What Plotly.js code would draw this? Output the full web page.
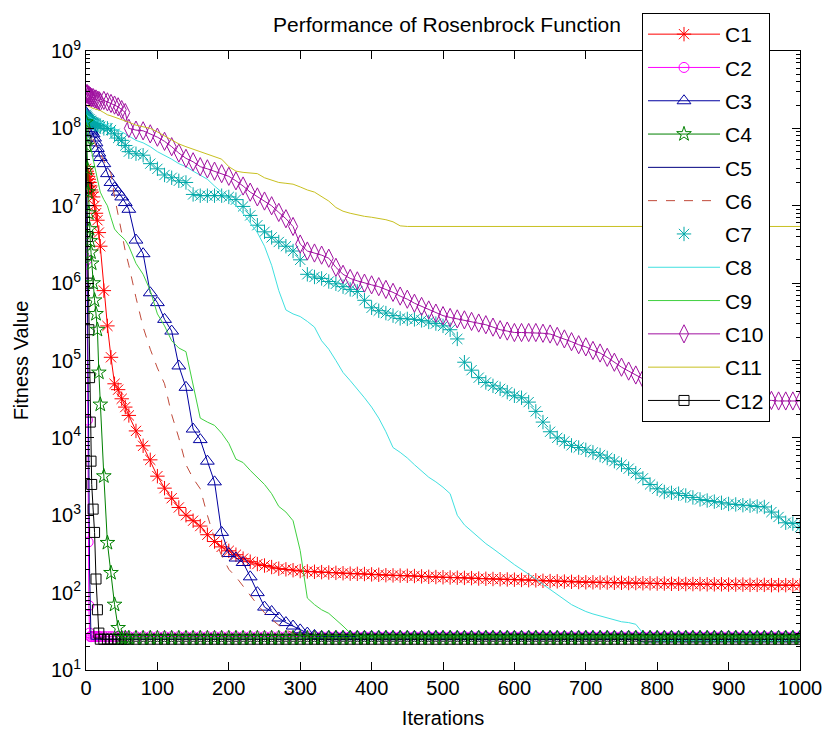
<!DOCTYPE html>
<html><head><meta charset="utf-8">
<script src="https://cdn.plot.ly/plotly-3.0.1.min.js"></script>
<style>html,body{margin:0;padding:0;background:#fff;} #chart{width:834px;height:736px;}</style>
</head><body><div id="chart"></div>
<script>
const iterations = [0,1,2,3,4,5,6,7,8,
 10,12,14,16,18,
 20,25,30,35,40,45,50,55,
 60,70,80,90,100,110,120,130,140,150,
 160,170,180,190,200,210,220,230,240,250,
 260,270,280,290,300,310,320,330,340,350,
 360,370,380,390,400,410,420,430,440,450,
 460,470,480,490,500,510,520,530,540,550,
 560,570,580,590,600,610,620,630,640,650,
 660,670,680,690,700,710,720,730,740,750,
 760,770,780,790,800,810,820,830,840,850,
 860,870,880,890,900,910,920,930,940,950,
 960,970,980,990,1000];

const seriesNames = ['C1','C2','C3','C4','C5','C6','C7','C8','C9','C10','C11','C12'];

const yTickValues = [10,100,1e3,1e4,1e5,1e6,1e7,1e8,1e9];
const yTickLabels = ['10<sup>1</sup>','10<sup>2</sup>','10<sup>3</sup>','10<sup>4</sup>','10<sup>5</sup>','10<sup>6</sup>','10<sup>7</sup>','10<sup>8</sup>','10<sup>9</sup>'];

const c1 = [3e7,2.8e7,2.6e7,2.4e7,2.2e7,2e7,1.8e7,1.6e7,1.5e7,
 1.3e7,1e7,8e6,6.5e6,4.5e6,
 3e6,8e5,2.8e5,1.1e5,5e4,4.2e4,3.2e4,2.5e4,
 19500,12300,7900,5200,3200,2240,1660,1260,1000,850,
 725,560,457,390,347,309,275,251,234,224,
 214,204,200,195,190,188,186,184,182,180,
 178,176,175,174,172,170,168,167,166,165,
 164,162,160,159,158,157,156,155,154,152,
 151,150,149,148,147,146,145,144,142,141,
 140,139,138,137,136,136,135,135,134,134,
 133,133,132,132,131,131,130,130,129,129,
 129,128,128,128,127,127,127,126,126,126,
 125,125,125,125,124];

const c2 = [2.5e8,2e6,1.7e4,450,68,30,27,27,27,
 27,27,27,27,27,
 27,27,27,27,27,27,27,27,
 27,27,27,27,27,27,27,27,27,27,
 27,27,27,27,27,27,27,27,27,27,
 27,27,27,27,27,27,27,27,27,27,
 27,27,27,27,27,27,27,27,27,27,
 27,27,27,27,27,27,27,27,27,27,
 27,27,27,27,27,27,27,27,27,27,
 27,27,27,27,27,27,27,27,27,27,
 27,27,27,27,27,27,27,27,27,27,
 27,27,27,27,27,27,27,27,27,27,
 27,27,27,27,27];

const c3 = [1.6e8,1.5e8,1.4e8,1.3e8,1.2e8,1.1e8,1e8,9.5e7,9e7,
 8.5e7,7.5e7,6.5e7,5.5e7,4.8e7,
 4.2e7,3.5e7,2.6e7,2e7,1.7e7,1.5e7,1.3e7,1.1e7,
 9e6,3.6e6,2.4e6,7.5e5,5.6e5,3.4e5,2.4e5,8.5e4,4.5e4,1.3e4,
 9.5e3,5e3,2.7e3,600,320,280,245,160,100,65,
 57,47,41,37,33,30,28,27,27,27,
 27,27,27,27,27,27,27,27,27,27,
 27,27,27,27,27,27,27,27,27,27,
 27,27,27,27,27,27,27,27,27,27,
 27,27,27,27,27,27,27,27,27,27,
 27,27,27,27,27,27,27,27,27,27,
 27,27,27,27,27,27,27,27,27,27,
 27,27,27,27,27];

const c4 = [1.2e8,6e7,3e7,1.5e7,8e6,5e6,3.5e6,2.5e6,1.8e6,
 1e6,6e5,4e5,2.5e5,7e4,
 2.7e4,3.2e3,440,180,70,35,26,26,
 26,26,26,26,26,26,26,26,26,26,
 26,26,26,26,26,26,26,26,26,26,
 26,26,26,26,26,26,26,26,26,26,
 26,26,26,26,26,26,26,26,26,26,
 26,26,26,26,26,26,26,26,26,26,
 26,26,26,26,26,26,26,26,26,26,
 26,26,26,26,26,26,26,26,26,26,
 26,26,26,26,26,26,26,26,26,26,
 26,26,26,26,26,26,26,26,26,26,
 26,26,26,26,26];

const c5 = [8e7,1e7,1e6,1e5,5e3,200,30,25,25,
 25,25,25,25,25,
 25,25,25,25,25,25,25,25,
 25,25,25,25,25,25,25,25,25,25,
 25,25,25,25,25,25,25,25,25,25,
 25,25,25,25,25,25,25,25,25,25,
 25,25,25,25,25,25,25,25,25,25,
 25,25,25,25,25,25,25,25,25,25,
 25,25,25,25,25,25,25,25,25,25,
 25,25,25,25,25,25,25,25,25,25,
 25,25,23,23,23,23,23,23,23,23,
 23,23,23,23,23,23,23,23,23,23,
 23,23,23,23,23];

const c6 = [1.2e8,1.15e8,1.1e8,1.05e8,1e8,9.5e7,9e7,8.5e7,8e7,
 7e7,6.5e7,6e7,5.5e7,5e7,
 4.5e7,3.8e7,3.2e7,2.6e7,1.3e7,8e6,4.5e6,2.6e6,
 1.7e6,6.5e5,2.7e5,1.4e5,8e4,5e4,2e4,1e4,4.5e3,3e3,
 2.2e3,1e3,500,300,200,160,120,90,70,55,
 45,38,33,30,28,27,26,26,26,26,
 26,26,26,26,26,26,26,26,26,26,
 26,26,26,26,26,26,26,26,26,26,
 26,26,26,26,26,26,26,26,26,26,
 26,26,26,26,26,26,26,26,26,26,
 26,26,26,26,26,26,26,26,26,26,
 26,26,26,26,26,26,26,26,26,26,
 26,26,26,26,26];

const c7 = [1.5e8,1.45e8,1.4e8,1.35e8,1.3e8,1.3e8,1.25e8,1.25e8,1.2e8,
 1.2e8,1.15e8,1.15e8,1.1e8,1.1e8,
 1.05e8,1e8,1e8,9.5e7,8.5e7,7.5e7,7e7,6e7,
 5e7,4.7e7,4.5e7,3.5e7,3e7,2.5e7,2.3e7,2.1e7,2e7,1.4e7,
 1.35e7,1.35e7,1.35e7,1.35e7,1.3e7,1.2e7,9.8e6,7.5e6,5.6e6,4.6e6,
 3.9e6,3.4e6,3e6,2.6e6,2e6,1.3e6,1.2e6,1.15e6,1.05e6,9.8e5,
 9e5,8.3e5,7.8e5,6e5,4.8e5,4.4e5,4.1e5,3.8e5,3.5e5,3.45e5,
 3.4e5,3.3e5,3.15e5,3e5,2.8e5,2.5e5,1.9e5,9.5e4,7.5e4,6e4,
 5.2e4,4.7e4,4.3e4,3.9e4,3.5e4,3.3e4,2.9e4,2.2e4,1.6e4,1.2e4,
 1e4,9e3,8e3,7.5e3,7e3,6.5e3,6e3,5.5e3,5e3,4.5e3,
 4e3,3.5e3,3e3,2.5e3,2.2e3,2e3,1.95e3,1.9e3,1.8e3,1.7e3,
 1.6e3,1.55e3,1.5e3,1.45e3,1.4e3,1.38e3,1.35e3,1.33e3,1.3e3,1.28e3,
 1.1e3,950,800,780,700];

const c8 = [1.5e8,1.5e8,1.45e8,1.45e8,1.4e8,1.4e8,1.4e8,1.35e8,1.35e8,
 1.3e8,1.3e8,1.25e8,1.25e8,1.2e8,
 1.2e8,1.15e8,1.1e8,1.05e8,1e8,9.5e7,9e7,8.5e7,
 8e7,7e7,6.5e7,5.8e7,5e7,4.5e7,4e7,3.5e7,3.2e7,2.8e7,
 2.5e7,2.2e7,1.8e7,1.5e7,1.2e7,1e7,8e6,6e6,4.5e6,3e6,
 1.7e6,8e5,4.5e5,4e5,3.7e5,3.2e5,2.7e5,1.8e5,1.4e5,1e5,
 7e4,5.5e4,4.3e4,3.3e4,2.5e4,1.8e4,1.2e4,7.5e3,6.5e3,5.5e3,
 4.5e3,3.7e3,3.1e3,2.7e3,2.3e3,1.9e3,1e3,750,620,520,
 430,370,320,270,230,200,175,150,128,110,
 95,80,70,63,57,53,50,47,44,42,
 41,39,30,25,24,24,24,24,24,24,
 24,24,24,24,24,24,24,24,24,24,
 24,24,24,24,24];

const c9 = [1.2e8,1.1e8,1e8,9e7,8e7,7e7,6e7,5.5e7,5e7,
 4e7,3.3e7,2.7e7,2.2e7,1.8e7,
 1.5e7,1.2e7,1e7,7e6,5e6,4.4e6,4e6,3.6e6,
 3e6,1.8e6,1.3e6,8e5,4e5,2.8e5,1.8e5,1.45e5,1.3e5,5e4,
 1.8e4,1.6e4,1.45e4,1.15e4,8.5e3,5.3e3,4.8e3,3.8e3,3.1e3,2.5e3,
 1.9e3,1.3e3,1.1e3,850,350,85,70,60,54,45,
 37,30,27,27,27,27,27,27,27,27,
 27,27,27,27,27,27,27,27,27,27,
 27,27,27,27,27,27,27,27,27,27,
 27,27,27,27,27,27,27,27,27,27,
 27,27,27,27,27,27,27,27,27,27,
 27,27,27,27,27,27,27,27,27,27,
 27,27,27,27,27];

const c10 = [2.8e8,2.8e8,2.8e8,2.7e8,2.7e8,2.6e8,2.6e8,2.5e8,2.5e8,
 2.5e8,2.4e8,2.4e8,2.3e8,2.3e8,
 2.2e8,2.3e8,2.2e8,2.1e8,2e8,1.9e8,1.75e8,1.6e8,
 1e8,9.5e7,9.3e7,8.5e7,7.7e7,6.8e7,5.8e7,4.8e7,4.1e7,3.7e7,
 3.2e7,3e7,2.8e7,2.6e7,2.4e7,2.1e7,1.8e7,1.5e7,1.3e7,1.15e7,
 1e7,8.2e6,6.8e6,5.4e6,3.2e6,2.6e6,2.45e6,2.3e6,2.1e6,1.6e6,
 1.3e6,1.15e6,1.07e6,1e6,9.5e5,9e5,8.3e5,7.6e5,6.8e5,6.2e5,
 5.5e5,5e5,4.5e5,4.1e5,3.8e5,3.6e5,3.45e5,3.35e5,3.2e5,3.05e5,
 2.9e5,2.7e5,2.5e5,2.4e5,2.3e5,2.3e5,2.3e5,2.3e5,2.25e5,2.2e5,
 2.05e5,1.9e5,1.75e5,1.6e5,1.5e5,1.35e5,1.25e5,1.1e5,9.5e4,8.2e4,
 7.3e4,6.5e4,5.8e4,5.3e4,4.9e4,4.6e4,4.4e4,4.2e4,4e4,3.8e4,
 3.6e4,3.5e4,3.4e4,3.3e4,3.25e4,3.2e4,3.2e4,3.15e4,3.1e4,3.1e4,
 3.05e4,3e4,3e4,3e4,3e4];

const c11 = [2e8,2e8,1.95e8,1.95e8,1.9e8,1.9e8,1.9e8,1.85e8,1.85e8,
 1.8e8,1.8e8,1.75e8,1.75e8,1.7e8,
 1.7e8,1.6e8,1.5e8,1.45e8,1.4e8,1.35e8,1.3e8,1.25e8,
 1.2e8,1.1e8,1.05e8,1e8,9e7,8e7,7e7,6.3e7,5.8e7,5.4e7,
 5e7,4.7e7,4.3e7,4e7,3.2e7,2.8e7,2.7e7,2.65e7,2.6e7,2.3e7,
 2.15e7,2e7,1.95e7,1.9e7,1.75e7,1.6e7,1.5e7,1.3e7,1.15e7,9.5e6,
 8.5e6,8e6,7.6e6,7.3e6,7.1e6,6.9e6,6.6e6,6.2e6,5.5e6,5.4e6,
 5.4e6,5.4e6,5.4e6,5.4e6,5.4e6,5.4e6,5.4e6,5.4e6,5.4e6,5.4e6,
 5.4e6,5.4e6,5.4e6,5.4e6,5.4e6,5.4e6,5.4e6,5.4e6,5.4e6,5.4e6,
 5.4e6,5.4e6,5.4e6,5.4e6,5.4e6,5.4e6,5.4e6,5.4e6,5.4e6,5.4e6,
 5.4e6,5.4e6,5.4e6,5.4e6,5.4e6,5.4e6,5.4e6,5.4e6,5.4e6,5.4e6,
 5.4e6,5.4e6,5.4e6,5.4e6,5.4e6,5.4e6,5.4e6,5.4e6,5.4e6,5.4e6,
 5.4e6,5.4e6,5.4e6,5.4e6,5.4e6];

const c12 = [7e7,1.7e7,4e6,1e6,2.5e5,6e4,1.6e4,5e3,2.5e3,
 1.2e3,600,150,60,30,
 25,25,25,25,25,25,25,25,
 25,25,25,25,25,25,25,25,25,25,
 25,25,25,25,25,25,25,25,25,25,
 25,25,25,25,25,25,25,25,25,25,
 25,25,25,25,25,25,25,25,25,25,
 25,25,25,25,25,25,25,25,25,25,
 25,25,25,25,25,25,25,25,25,25,
 25,25,25,25,25,25,25,25,25,25,
 25,25,25,25,25,25,25,25,25,25,
 25,25,25,25,25,25,25,25,25,25,
 25,25,25,25,25];

const seriesValues = [c1,c2,c3,c4,c5,c6,c7,c8,c9,c10,c11,c12];

const styles = [
 {color:'#ff0000', mode:'lines+markers', symbol:'asterisk-open', size:12, dash:'solid'},
 {color:'#ff00ff', mode:'lines+markers', symbol:'circle-open', size:10, dash:'solid'},
 {color:'#0000a0', mode:'lines+markers', symbol:'triangle-up-open', size:12, dash:'solid'},
 {color:'#008000', mode:'lines+markers', symbol:'star-open', size:11, dash:'solid'},
 {color:'#000080', mode:'lines', dash:'solid'},
 {color:'#c04a3a', mode:'lines', dash:'dash'},
 {color:'#00a8a8', mode:'markers', symbol:'asterisk-open', size:12},
 {color:'#40e0e0', mode:'lines', dash:'solid'},
 {color:'#40d040', mode:'lines', dash:'solid'},
 {color:'#a010a0', mode:'lines+markers', symbol:'diamond-tall-open', size:13, dash:'solid'},
 {color:'#c8c020', mode:'lines', dash:'solid'},
 {color:'#000000', mode:'lines+markers', symbol:'square-open', size:10, dash:'solid'}
];

// drawing order: C4 drawn last so its markers dominate the converged band (legend order kept by legendrank)
const drawOrder = [0,1,2,4,5,6,7,8,9,10,11,3];

const traces = drawOrder.map((i) => {
  const name = seriesNames[i];
  const vals = seriesValues[i];
  if (vals.length !== iterations.length) throw new Error(name + ' length ' + vals.length);
  const s = styles[i];
  const t = {type:'scatter', x: iterations, y: vals, name: name, mode: s.mode,
    legendgroup: name, legendrank: i + 1, cliponaxis: true};
  if (s.mode.indexOf('lines') >= 0) t.line = {color: s.color, width: 1, dash: s.dash};
  if (s.mode.indexOf('markers') >= 0) t.marker = {symbol: s.symbol, size: s.size, color: s.color, line: {color: s.color, width: 1}};
  return t;
});

const layout = {
  width: 834, height: 736,
  margin: {l: 86, r: 34, t: 51, b: 66, autoexpand: false},
  paper_bgcolor: '#ffffff', plot_bgcolor: '#ffffff',
  font: {family: 'Liberation Sans, Arial, sans-serif', size: 20, color: '#000'},
  title: {text: 'Performance of Rosenbrock Function', x: 447/834, xanchor: 'center', y: 1 - 25/736, yanchor: 'middle', font: {size: 21}},
  xaxis: {range: [0, 1000], tick0: 0, dtick: 100, ticks: 'inside', ticklen: 8, tickcolor: '#000', tickwidth: 1,
    showline: true, linecolor: '#000', linewidth: 1, mirror: 'allticks', showgrid: false, zeroline: false, automargin: false,
    title: {text: 'Iterations', standoff: 12, font: {size: 20}}},
  yaxis: {type: 'log', range: [1, 9], tickmode: 'array', tickvals: yTickValues, ticktext: yTickLabels,
    ticks: 'inside', ticklen: 8, tickcolor: '#000', tickwidth: 1,
    minor: {ticks: 'inside', ticklen: 4, tickcolor: '#000', showgrid: false, dtick: 'D1'},
    showline: true, linecolor: '#000', linewidth: 1, mirror: 'allticks', showgrid: false, zeroline: false, automargin: false,
    title: {text: 'Fitness Value', standoff: 16, font: {size: 20}}},
  legend: {x: (642-86)/714, xanchor: 'left', yref: 'container', y: 1 - 13/736, yanchor: 'top',
    bgcolor: '#ffffff', bordercolor: '#000', borderwidth: 1, maxheight: 700,
    itemwidth: 72, tracegroupgap: 3, traceorder: 'grouped', font: {size: 21}},
  showlegend: true
};

Plotly.newPlot('chart', traces, layout, {displayModeBar: false, staticPlot: true});
</script>
</body></html>
